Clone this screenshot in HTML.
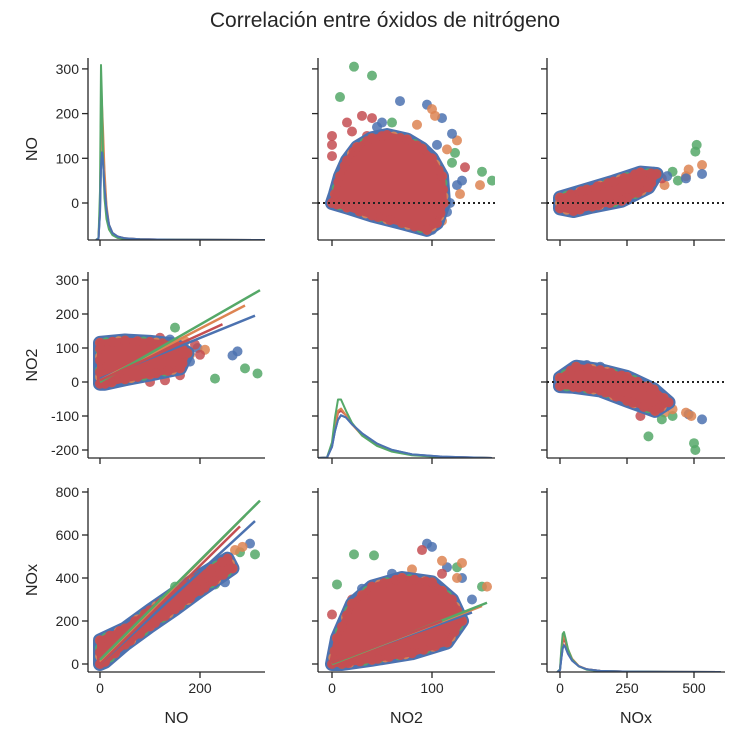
<!DOCTYPE html>
<html><head><meta charset="utf-8"><style>
body{margin:0;background:#fff}
svg text{font-family:"Liberation Sans",sans-serif;fill:#262626}
</style></head><body>
<svg id="c" width="734" height="736" xmlns="http://www.w3.org/2000/svg">
<text x="385" y="27" text-anchor="middle" font-size="21">Correlación entre óxidos de nitrógeno</text>
</svg>
<script>
const seriesColors=["#4c72b0","#dd8452","#55a868","#c44e52"];
const colTicks=[[0,200],[0,100],[0,250,500]];
const rowTicks=[[0,100,200,300],[-200,-100,0,100,200,300],[0,200,400,600,800]];
const varNames=["NO","NO2","NOx"];
const kdeX=[[-8,-3,0,2,4,6,9,13,18,25,35,50,80,150,330],[-15,-5,0,3,6,9,14,20,30,45,60,80,110,160],[-10,0,5,10,15,20,30,45,70,100,150,250,400,600]];
const kdeNO=[[0,0.02,0.38,1.06,1.26,1.13,0.75,0.44,0.22,0.1,0.05,0.025,0.012,0.004,0],[0,0.02,0.5,1.6,1.93,1.6,1.0,0.5,0.22,0.1,0.05,0.025,0.012,0.004,0],[0,0.03,0.7,2.5,2.0,1.2,0.6,0.3,0.15,0.07,0.03,0.015,0.008,0.003,0],[0,0.02,0.5,1.5,1.8,1.45,0.9,0.45,0.2,0.09,0.045,0.022,0.011,0.003,0]];
const kdeNO2=[[0,0.01,0.25,0.6,0.85,0.95,0.9,0.75,0.55,0.32,0.18,0.08,0.03,0],[0,0.01,0.3,0.75,1.05,1.1,0.95,0.75,0.5,0.28,0.15,0.07,0.025,0],[0,0.01,0.35,0.9,1.3,1.3,1.05,0.78,0.5,0.27,0.14,0.06,0.02,0],[0,0.01,0.3,0.7,1.0,1.05,0.95,0.75,0.52,0.3,0.16,0.07,0.025,0]];
const kdeNOx=[[0,0.05,0.35,0.62,0.7,0.65,0.48,0.3,0.15,0.07,0.03,0.01,0.003,0],[0,0.06,0.5,0.85,0.95,0.85,0.6,0.35,0.16,0.07,0.03,0.01,0.003,0],[0,0.07,0.6,1.0,1.05,0.9,0.6,0.33,0.15,0.06,0.025,0.01,0.003,0],[0,0.06,0.45,0.78,0.85,0.78,0.55,0.33,0.15,0.07,0.03,0.01,0.003,0]];
const kdeAll=[kdeNO,kdeNO2,kdeNOx];
const kdeScale=[70,45,38];
const hull01=[[0,0],[3,20],[8,60],[15,95],[25,125],[40,145],[55,152],[75,142],[90,122],[100,100],[110,60],[112,0],[105,-45],[95,-60],[70,-45],[40,-28],[15,-10]];
const hull02=[[0,-12],[0,12],[100,30],[200,48],[300,68],[360,65],[330,35],[230,5],[120,-8],[50,-18]];
const hull10=[[0,-5],[0,115],[50,122],[100,118],[150,110],[175,85],[160,40],[100,22],[50,8],[10,-5]];
const hull12=[[0,-12],[0,12],[60,45],[150,35],[250,15],[350,-22],[405,-60],[355,-85],[250,-55],[150,-25],[50,-14]];
const hull20=[[0,0],[0,110],[50,165],[100,250],[150,330],[200,410],[255,490],[265,445],[200,340],[150,255],[100,175],[50,90],[10,10]];
const hull21=[[0,0],[5,120],[20,280],[40,360],[70,400],[100,380],[120,300],[130,200],[115,100],[80,50],[40,20],[10,0]];
const hullData={"0-1":hull01,"0-2":hull02,"1-0":hull10,"1-2":hull12,"2-0":hull20,"2-1":hull21};
const pts01=[[22,305,2],[40,285,2],[8,237,2],[68,228,0],[50,180,0],[95,220,0],[110,190,0],[100,210,1],[103,195,1],[148,40,1],[125,140,1],[0,150,3],[0,130,3],[0,105,3],[20,160,3],[133,80,3],[160,50,2],[123,112,2],[150,70,2],[130,50,0],[118,0,0],[115,-20,0],[100,-60,0],[110,-40,1],[120,155,0],[35,150,3],[15,180,3],[30,195,3],[40,190,3],[45,170,0],[85,175,1],[105,130,0],[115,120,1],[120,90,2],[125,40,0],[128,20,1],[105,-30,2],[60,180,2],[20,110,2]];
const pts02=[[510,130,2],[505,115,2],[420,70,2],[440,50,2],[480,75,1],[470,60,1],[530,85,1],[530,65,0],[470,55,0],[390,40,1],[380,55,3],[300,70,3],[350,70,2],[320,60,1],[250,55,0],[400,60,0]];
const pts10=[[265,78,0],[275,90,0],[195,100,0],[140,125,0],[290,40,2],[315,25,2],[230,10,2],[150,160,2],[210,95,1],[180,80,1],[100,0,3],[200,80,3],[170,120,1],[120,130,3],[60,125,1],[20,120,1],[180,60,0],[160,20,3],[130,5,3],[190,110,3]];
const pts12=[[500,-180,2],[505,-200,2],[330,-160,2],[420,-100,2],[530,-110,0],[480,-95,0],[490,-100,1],[470,-90,1],[390,-90,1],[330,-70,2],[300,-100,3],[100,50,0],[150,45,0],[380,-110,2],[420,-80,1]];
const pts20=[[250,380,0],[300,560,0],[235,420,0],[280,520,2],[310,510,2],[230,370,2],[270,530,1],[285,545,1],[200,360,2],[150,360,2],[220,440,3],[180,350,1]];
const pts21=[[22,510,2],[42,505,2],[5,370,2],[125,450,2],[150,360,2],[95,560,0],[100,545,0],[115,450,0],[130,400,0],[110,480,1],[130,470,1],[155,360,1],[0,230,3],[90,530,3],[60,420,0],[20,300,3],[30,350,0],[110,420,3],[80,440,1],[140,300,0],[125,400,1]];
const ptsData={"0-1":pts01,"0-2":pts02,"1-0":pts10,"1-2":pts12,"2-0":pts20,"2-1":pts21};
const reg10=[[0,10,310,195],[0,5,290,225],[0,0,320,270],[0,5,245,170]];
const reg20=[[0,0,310,665],[0,10,290,690],[0,20,320,760],[0,0,280,640]];
const reg21=[[0,5,140,240],[0,0,150,270],[0,0,155,285],[0,5,110,200]];
const regData={"1-0":reg10,"2-0":reg20,"2-1":reg21};

const colPx=[[88,265],[318,495],[547,725]];
const rowPx=[[58,240],[272,458],[488,672]];
function sx(c,v){const m=[[100,0.5],[332,1.0],[560,0.268]][c];return m[0]+v*m[1];}
function sy(r,v){const m=[[203,0.447],[382,0.34],[664,0.215]][r];return m[0]-v*m[1];}
const svg=document.getElementById('c');
const NS="http://www.w3.org/2000/svg";
function mk(t,a,p){const e=document.createElementNS(NS,t);for(const k in a)e.setAttribute(k,a[k]);(p||svg).appendChild(e);return e;}
for(let r=0;r<3;r++)for(let c=0;c<3;c++){
  const g=mk('g',{});
  
  
  const [x0,x1]=colPx[c],[y0,y1]=rowPx[r];
  const clip=mk('clipPath',{id:'cp'+r+c},g);mk('rect',{x:x0,y:y0-5,width:x1-x0,height:y1-y0+5},clip);
  const inner=mk('g',{'clip-path':'url(#cp'+r+c+')'},g);
  const key=r+'-'+c;
  if(r===c){
    const xs=kdeX[c];const base=y1;
    [3,0,1,2].forEach(s=>{
      const d=kdeAll[c][s].map((v,i)=>(i?'L':'M')+sx(c,xs[i]).toFixed(1)+','+(base-v*kdeScale[c]).toFixed(1)).join('');
      const p=mk('path',{d:d,fill:'none',stroke:seriesColors[s],'stroke-width':2,'stroke-linejoin':'round'},inner);
      
      
    });
    const d0=kdeAll[c][0].map((v,i)=>(i?'L':'M')+sx(c,xs[i]).toFixed(1)+','+(base-v*kdeScale[c]).toFixed(1)).join('');
    mk('path',{d:d0,fill:'none',stroke:seriesColors[0],'stroke-width':2},inner);
  } else {
    ptsData[key].forEach(p=>{const e=mk('circle',{cx:sx(c,p[0]),cy:sy(r,p[1]),r:5,fill:seriesColors[p[2]],opacity:0.85},inner);
      
      });
    const h=hullData[key];
    const P=h.map(p=>[sx(c,p[0]),sy(r,p[1])]);
    const ps=P.map(p=>p.join(',')).join(' ');
    mk('polygon',{points:ps,fill:'#4c72b0',stroke:'#4c72b0','stroke-width':14,'stroke-linejoin':'round'},inner);
    // dotted texture around the edge
    for(let i=0;i<P.length;i++){const a=P[i],b=P[(i+1)%P.length];const L=Math.hypot(b[0]-a[0],b[1]-a[1]);const n=Math.max(1,Math.round(L/7));
      for(let k=0;k<n;k++){const t=k/n;const cx=a[0]+(b[0]-a[0])*t,cy=a[1]+(b[1]-a[1])*t;
        mk('circle',{cx:cx,cy:cy,r:5,fill:seriesColors[(i+k)%3],opacity:0.9},inner);}}
    const hp=mk('polygon',{points:ps,fill:'#c44e52',stroke:'#c44e52','stroke-width':6,'stroke-linejoin':'round'},inner);
    
    
    for(let i=0;i<P.length;i++){const a=P[i],b=P[(i+1)%P.length];const L=Math.hypot(b[0]-a[0],b[1]-a[1]);const n=Math.max(1,Math.round(L/6));
      for(let k=0;k<n;k+=2){const t=k/n;mk('circle',{cx:a[0]+(b[0]-a[0])*t,cy:a[1]+(b[1]-a[1])*t,r:5,fill:'#c44e52',opacity:0.95},inner);}}
    if(regData[key]) regData[key].forEach((l,s)=>{const e=mk('line',{x1:sx(c,l[0]),y1:sy(r,l[1]),x2:sx(c,l[2]),y2:sy(r,l[3]),stroke:seriesColors[s],'stroke-width':2.5},inner);
      
      });
    if(r<c){const e=mk('line',{x1:x0,x2:x1,y1:sy(r,0),y2:sy(r,0),stroke:'#222','stroke-width':2,'stroke-dasharray':'2,3'},inner);
      
      }
  }
  mk('line',{x1:x0,y1:y0,x2:x0,y2:y1,stroke:'#262626','stroke-width':1.3},g);
  mk('line',{x1:x0,y1:y1,x2:x1,y2:y1,stroke:'#262626','stroke-width':1.3},g);
  colTicks[c].forEach(v=>{const x=sx(c,v);mk('line',{x1:x,x2:x,y1:y1,y2:y1+6,stroke:'#262626','stroke-width':1.3},g);
    if(r===2){const t=mk('text',{x:x,y:y1+21,'text-anchor':'middle','font-size':14},g);t.textContent=v;
      
      }});
  rowTicks[r].forEach(v=>{const y=sy(r,v);if(y<y0-2||y>y1)return;mk('line',{x1:x0-6,x2:x0,y1:y,y2:y,stroke:'#262626','stroke-width':1.3},g);
    if(c===0){const t=mk('text',{x:x0-9,y:y+5,'text-anchor':'end','font-size':14},g);t.textContent=v;
      
      }});
}
varNames.forEach((n,i)=>{
  const t=mk('text',{x:(colPx[i][0]+colPx[i][1])/2,y:723,'text-anchor':'middle','font-size':16});t.textContent=n;
  
  
  const cy=(rowPx[i][0]+rowPx[i][1])/2;
  const u=mk('text',{x:37,y:cy,'text-anchor':'middle','font-size':16,transform:'rotate(-90 37 '+cy+')'});u.textContent=n;
  
  
});
</script>
</body></html>
